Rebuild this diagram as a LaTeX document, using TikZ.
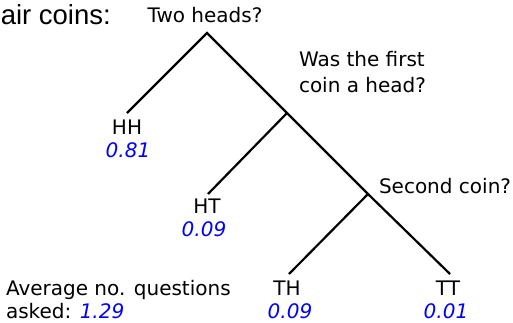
\documentclass[tikz,border=0pt]{standalone}
\usepackage{fontspec}
\setmainfont{DejaVu Sans}
\newfontfamily\arialfont{Liberation Sans}
\definecolor{probblue}{RGB}{0,0,255}
\begin{document}
\begin{tikzpicture}[x=1pt,y=-1pt,
  treeline/.style={line width=2.2pt,line cap=butt},
  lbl/.style={inner sep=0pt,outer sep=0pt,font=\fontsize{20}{24}\selectfont},
  prob/.style={lbl,text=probblue,font=\fontsize{20}{24}\selectfont\itshape}]
\useasboundingbox (0,0) rectangle (513,322);
% tree points
\coordinate (root) at (207,33);
\coordinate (q2) at (287,113);
\coordinate (q3) at (368,194);
\coordinate (hh) at (127,113);
\coordinate (ht) at (208,194);
\coordinate (th) at (289,274);
\coordinate (tt) at (450,274);
\draw[treeline] (hh) -- (root) -- (q2) -- (q3) -- (tt);
\draw[treeline] (q2) -- (ht);
\draw[treeline] (q3) -- (th);
% title
\node[inner sep=0pt,anchor=base east,font=\arialfont\fontsize{27.5}{32}\selectfont] (title) at (111,24) {air coins:};
% questions
\node[lbl,anchor=base] (tq1) at (205,22.5) {Two heads?};
\node[lbl,anchor=base west,align=left,font=\fontsize{20}{26}\selectfont] (tq2) at (299,92) {Was the first\\coin a head?};
\node[lbl,anchor=base west] (tq3) at (379,193) {Second coin?};
% leaves
\node[lbl,anchor=base] (lhh) at (127,134) {HH};
\node[prob,anchor=base] (phh) at (128,157.5) {0.81};
\node[lbl,anchor=base] (lht) at (207,213.5) {HT};
\node[prob,anchor=base] (pht) at (204,236.5) {0.09};
\node[lbl,anchor=base] (lth) at (287,295) {TH};
\node[prob,anchor=base] (pth) at (290,318) {0.09};
\node[lbl,anchor=base] (ltt) at (448,295) {TT};
\node[prob,anchor=base] (ptt) at (446,318) {0.01};
% average
\node[lbl,anchor=base west,align=left] (avg) at (6,295) {Average no. questions};
\node[lbl,anchor=base west] (avg2) at (6,318.5) {asked: {\color{probblue}\itshape 1.29}};
\end{tikzpicture}
\end{document}
